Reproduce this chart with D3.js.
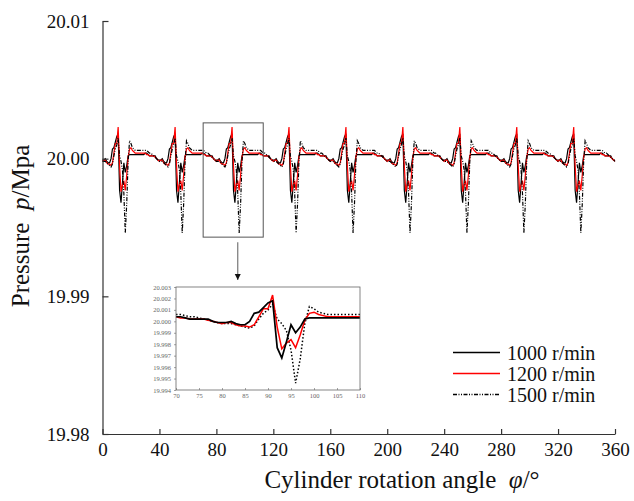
<!DOCTYPE html>
<html>
<head>
<meta charset="utf-8">
<script src="https://cdn.jsdelivr.net/npm/d3@7"></script>
<style>
  body { margin: 0; background: #fff; }
  svg { display: block; font-family: "Liberation Serif", "Times New Roman", serif; }
</style>
</head>
<body>
<svg id="chart" width="634" height="501"></svg>
<script>
// one period (angles 70..110), values in MPa
var periodAngles = d3.range(70, 111);
var p1000 = [20.0004, 20.0004, 20.0003, 20.0002, 20.0002, 20.0002, 20.0002, 20.0002, 20.0000, 19.9999,
             19.9999, 19.9999, 20.0000, 19.9998, 19.9997, 19.9997, 20.0000, 20.0007, 20.0008, 20.0012,
             20.0016, 20.0018, 19.9977, 19.9968, 19.9982, 19.9997, 19.9990, 19.9995, 20.0002, 20.0003,
             20.0003, 20.0003, 20.0003, 20.0003, 20.0003, 20.0003, 20.0003, 20.0003, 20.0003, 20.0003, 20.0003];
var p1200 = [20.0004, 20.0003, 20.0003, 20.0002, 20.0002, 20.0002, 20.0002, 20.0001, 20.0000, 19.9999,
             19.9998, 19.9999, 19.9999, 19.9997, 19.9996, 19.9996, 19.9995, 19.9997, 20.0004, 20.0011,
             20.0011, 20.0023, 19.9995, 19.9976, 19.9981, 19.9984, 19.9977, 19.9988, 20.0001, 20.0007,
             20.0008, 20.0006, 20.0005, 20.0004, 20.0004, 20.0004, 20.0004, 20.0004, 20.0004, 20.0004, 20.0004];
var p1500 = [20.0006, 20.0006, 20.0005, 20.0004, 20.0004, 20.0003, 20.0002, 20.0001, 20.0000, 19.9999,
             19.9998, 19.9998, 19.9998, 19.9997, 19.9996, 19.9995, 19.9994, 19.9996, 20.0002, 20.0007,
             20.0010, 20.0015, 20.0002, 19.9998, 19.9992, 19.9975, 19.9946, 19.9967, 19.9998, 20.0013,
             20.0011, 20.0008, 20.0007, 20.0006, 20.0006, 20.0006, 20.0006, 20.0006, 20.0006, 20.0006, 20.0006];

var seriesNames = ['1000 r/min', '1200 r/min', '1500 r/min'];
var seriesValues = [p1000, p1200, p1500];
var seriesColors = ['#000000', '#ff0000', '#000000'];
var mainDash = [null, null, '4,1.5,1,1.5,1,1.5'];
var insetDash = [null, null, '1.5,2'];

var xTicks = [0, 40, 80, 120, 160, 200, 240, 280, 320, 360];
var yTicks = [19.98, 19.99, 20.00, 20.01];
var insetXTicks = [70, 75, 80, 85, 90, 95, 100, 105, 110];
var insetYTicks = [19.994, 19.995, 19.996, 19.997, 19.998, 19.999, 20.000, 20.001, 20.002, 20.003];
var zoomBox = { x0: 70.7, x1: 112.9, y0: 19.9943, y1: 20.0026 };
var period = 40;

// full 0..360 signal: the read period repeats every 40 degrees
function tile(vals) {
  var out = [];
  for (var k = 0; k <= 9; k++) {
    periodAngles.forEach(function(a, i) {
      if (i === periodAngles.length - 1) return;
      var m = a - 80 + period * k;
      if (m >= 0 && m <= 360) out.push({ x: m, y: vals[i] });
    });
  }
  return out;
}

var svg = d3.select('#chart');
var x = d3.scaleLinear().domain([0, 360]).range([102.5, 615]);
var y = d3.scaleLinear().domain([19.98, 20.01]).range([434, 21]);

var line = d3.line().x(function(d) { return x(d.x); }).y(function(d) { return y(d.y); });

var mainG = svg.append('g');
seriesValues.forEach(function(vals, i) {
  mainG.append('path')
    .datum(tile(vals))
    .attr('fill', 'none')
    .attr('stroke', seriesColors[i])
    .attr('stroke-width', 1.2)
    .attr('stroke-dasharray', mainDash[i])
    .attr('d', line);
});

var xAxis = svg.append('g')
  .attr('transform', 'translate(0,434)')
  .call(d3.axisBottom(x).tickValues(xTicks).tickSizeInner(-5).tickSizeOuter(0).tickPadding(9).tickFormat(d3.format('d')));
var yAxis = svg.append('g')
  .attr('transform', 'translate(102.5,0)')
  .call(d3.axisLeft(y).tickValues(yTicks).tickSizeInner(-6).tickSizeOuter(0).tickPadding(13).tickFormat(d3.format('.2f')));
[xAxis, yAxis].forEach(function(g) {
  g.selectAll('path, line').attr('stroke', '#333').attr('stroke-width', 1.2);
  g.selectAll('text').attr('font-size', 19).attr('fill', '#111').attr('font-family', '"Liberation Serif", serif');
});

svg.append('text')
  .attr('x', 402).attr('y', 488)
  .attr('text-anchor', 'middle')
  .attr('font-size', 25).attr('fill', '#111')
  .html('Cylinder rotation angle\u00a0\u00a0<tspan font-style="italic">\u03c6</tspan>/\u00b0');

svg.append('text')
  .attr('transform', 'translate(29,226) rotate(-90)')
  .attr('text-anchor', 'middle')
  .attr('font-size', 25).attr('fill', '#111')
  .html('Pressure\u00a0\u00a0<tspan font-style="italic">p</tspan>/Mpa');

// zoom rectangle + arrow
svg.append('rect')
  .attr('x', x(zoomBox.x0)).attr('y', y(zoomBox.y1))
  .attr('width', x(zoomBox.x1) - x(zoomBox.x0))
  .attr('height', y(zoomBox.y0) - y(zoomBox.y1))
  .attr('fill', 'none').attr('stroke', '#555').attr('stroke-width', 1);

var ax = x(95);
svg.append('defs').append('marker')
  .attr('id', 'arrow').attr('viewBox', '0 0 10 10').attr('refX', 10).attr('refY', 5)
  .attr('markerWidth', 5).attr('markerHeight', 7).attr('orient', 'auto')
  .append('path').attr('d', 'M0,0 L10,5 L0,10 z').attr('fill', '#111');
svg.append('line')
  .attr('x1', ax).attr('x2', ax)
  .attr('y1', y(zoomBox.y0) + 5).attr('y2', 280)
  .attr('stroke', '#777').attr('stroke-width', 1.2)
  .attr('marker-end', 'url(#arrow)');

// inset
var ix = d3.scaleLinear().domain([70, 110]).range([176, 360]);
var iy = d3.scaleLinear().domain([19.994, 20.003]).range([390, 287]);
var iline = d3.line().x(function(d) { return ix(d.x); }).y(function(d) { return iy(d.y); });

var inset = svg.append('g');
inset.append('rect')
  .attr('x', 176).attr('y', 287).attr('width', 184).attr('height', 103)
  .attr('fill', '#fff');
[2, 1, 0].forEach(function(i) {
  inset.append('path')
    .datum(periodAngles.map(function(a, j) { return { x: a, y: seriesValues[i][j] }; }))
    .attr('fill', 'none')
    .attr('stroke', seriesColors[i])
    .attr('stroke-width', i === 0 ? 1.7 : 1.5)
    .attr('stroke-dasharray', insetDash[i])
    .attr('d', iline);
});
inset.append('rect')
  .attr('x', 176).attr('y', 287).attr('width', 184).attr('height', 103)
  .attr('fill', 'none').attr('stroke', '#666').attr('stroke-width', 0.8);
var ixAxis = inset.append('g').attr('transform', 'translate(0,390)')
  .call(d3.axisBottom(ix).tickValues(insetXTicks).tickSizeInner(-2).tickSizeOuter(0).tickPadding(3));
var iyAxis = inset.append('g').attr('transform', 'translate(176,0)')
  .call(d3.axisLeft(iy).tickValues(insetYTicks).tickSizeInner(2).tickSizeOuter(0).tickPadding(3).tickFormat(d3.format('.3f')));
[ixAxis, iyAxis].forEach(function(g) {
  g.select('.domain').remove();
  g.selectAll('line').attr('stroke', '#666').attr('stroke-width', 0.6);
  g.selectAll('text').attr('font-size', 6.5).attr('fill', '#666').attr('font-family', '"Liberation Serif", serif');
});

// legend
var legend = svg.append('g');
seriesNames.forEach(function(name, i) {
  var ly = 352.5 + i * 21;
  legend.append('line')
    .attr('x1', 453).attr('x2', 500).attr('y1', ly).attr('y2', ly)
    .attr('stroke', seriesColors[i]).attr('stroke-width', 1.3)
    .attr('stroke-dasharray', mainDash[i]);
  legend.append('text')
    .attr('x', 507).attr('y', ly).attr('dy', '0.35em')
    .attr('font-size', 20).attr('fill', '#111')
    .text(name);
});
</script>
</body>
</html>
